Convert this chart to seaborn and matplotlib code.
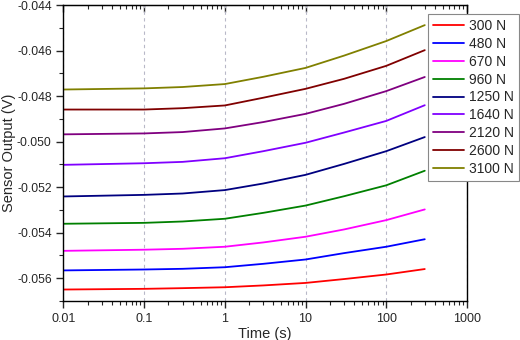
import matplotlib
matplotlib.use("Agg")
import matplotlib.pyplot as plt
import matplotlib.ticker as mticker
import numpy as np
import pandas as pd
import seaborn as sns

# time points (s) and sensor output (V)
time_s = [0.01, 0.1, 0.3, 1, 3, 10, 30, 100, 300]

v_300 = [-0.05650, -0.05647, -0.05644, -0.05640, -0.05632, -0.05621, -0.05604, -0.05584, -0.05560]
v_480 = [-0.05566, -0.05562, -0.05559, -0.05552, -0.05537, -0.05518, -0.05490, -0.05462, -0.05429]
v_670 = [-0.05480, -0.05475, -0.05471, -0.05462, -0.05443, -0.05418, -0.05386, -0.05345, -0.05298]
v_960 = [-0.05361, -0.05357, -0.05351, -0.05339, -0.05313, -0.05281, -0.05240, -0.05192, -0.05128]
v_1250 = [-0.05241, -0.05234, -0.05228, -0.05213, -0.05184, -0.05146, -0.05098, -0.05042, -0.04980]
v_1640 = [-0.05102, -0.05095, -0.05089, -0.05073, -0.05042, -0.05005, -0.04960, -0.04909, -0.04840]
v_2120 = [-0.04968, -0.04964, -0.04958, -0.04942, -0.04914, -0.04878, -0.04834, -0.04778, -0.04716]
v_2600 = [-0.04859, -0.04859, -0.04853, -0.04841, -0.04807, -0.04768, -0.04724, -0.04667, -0.04598]
v_3100 = [-0.04771, -0.04766, -0.04760, -0.04747, -0.04715, -0.04676, -0.04622, -0.04558, -0.04488]

labels = ["300 N", "480 N", "670 N", "960 N", "1250 N", "1640 N", "2120 N", "2600 N", "3100 N"]
series = [v_300, v_480, v_670, v_960, v_1250, v_1640, v_2120, v_2600, v_3100]
colors = ["#ff0000", "#0000ff", "#ff00ff", "#008000", "#000080",
          "#8000ff", "#800080", "#800000", "#808000"]

df = pd.DataFrame({
    "Time (s)": np.tile(time_s, len(labels)),
    "Sensor Output (V)": np.concatenate(series),
    "Load": np.repeat(labels, len(time_s)),
})

sns.set_style("ticks")
plt.rcParams["font.family"] = ["Liberation Sans", "DejaVu Sans"]

fig = plt.figure(figsize=(5.2, 3.4), dpi=100)
ax = fig.add_axes([0.122, 0.115, 0.776, 0.870])

sns.lineplot(data=df, x="Time (s)", y="Sensor Output (V)", hue="Load",
             hue_order=labels, palette=colors, linewidth=1.3, ax=ax)

ax.set_xscale("log")
ax.set_xlim(0.01, 1000)
ax.set_ylim(-0.057, -0.044)
ax.xaxis.set_major_formatter(mticker.FuncFormatter(lambda v, p: f"{v:g}"))
ax.yaxis.set_major_locator(mticker.MultipleLocator(0.002))
ax.yaxis.set_minor_locator(mticker.MultipleLocator(0.001))
ax.yaxis.set_major_formatter(mticker.FormatStrFormatter("%.3f"))

for s in ax.spines.values():
    s.set_linewidth(1.0)
    s.set_color("black")
ax.tick_params(axis="both", which="major", labelsize=9, length=5, width=1, direction="out")
ax.tick_params(axis="y", which="major", labelsize=8.7)
ax.tick_params(axis="both", which="minor", length=3, width=0.8, direction="out")

# mirrored top ticks, pointing into the plot, no labels
sec = ax.secondary_xaxis("top")
sec.tick_params(which="major", direction="in", length=5, width=1, labeltop=False)
sec.tick_params(which="minor", direction="in", length=3, width=0.8, labeltop=False)
sec.xaxis.set_major_formatter(mticker.NullFormatter())
sec.xaxis.set_minor_formatter(mticker.NullFormatter())

ax.grid(axis="x", which="major", linestyle=(0, (3, 3)), color="#b8b8c8", linewidth=0.8)
ax.set_xlabel("Time (s)", fontsize=10.5, labelpad=2)
ax.set_ylabel("Sensor Output (V)", fontsize=10.5)
ax.yaxis.set_label_coords(-0.118, 0.5)

leg = ax.legend(loc="upper right", bbox_to_anchor=(519 / 520, 1 - 14 / 340),
                bbox_transform=fig.transFigure, fontsize=10, frameon=True,
                fancybox=False, edgecolor="#888888", framealpha=1,
                handlelength=2.2, labelspacing=0.28, borderpad=0.35,
                handletextpad=0.4, borderaxespad=0)
leg.get_frame().set_linewidth(0.8)

fig.savefig("out.png", dpi=100)
